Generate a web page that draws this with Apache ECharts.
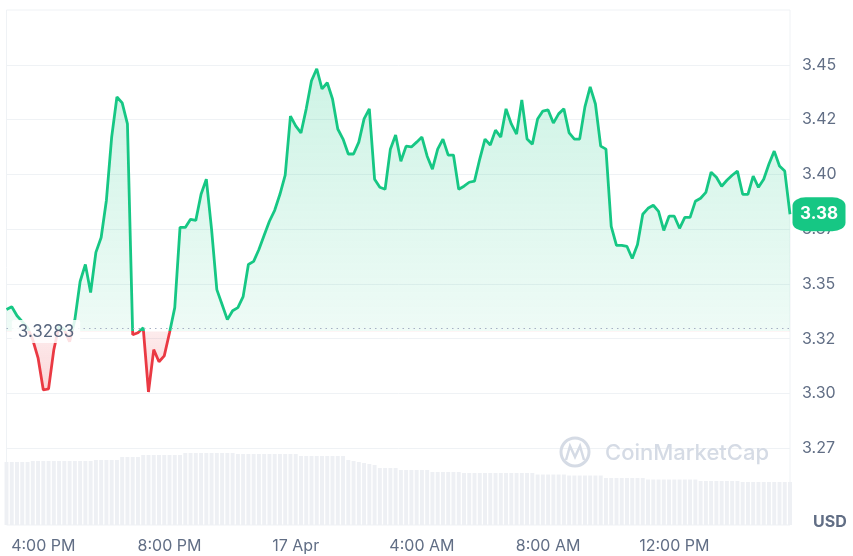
<!DOCTYPE html>
<html><head><meta charset="utf-8">
<script src="https://cdn.jsdelivr.net/npm/echarts@6/dist/echarts.min.js"></script>
<style>html,body{margin:0;padding:0;background:#fff}#c{width:853px;height:556px}</style>
</head><body><div id="c"></div>
<script>
// 10-minute samples starting 16 Apr 14:50
const startDay = 16;
const startMinutes = 14 * 60 + 50;
const stepMinutes = 10;
const baseline = 3.3283;
const priceTicks = [3.275, 3.3, 3.325, 3.35, 3.375, 3.4, 3.425, 3.45];
const prices = [
3.3383,3.3396,3.3355,3.3328,3.3300,3.3245,3.3163,3.3016,3.3021,3.3200,
3.3309,3.3291,3.3236,3.3337,3.3511,3.3589,3.3461,3.3644,3.3712,3.3882,
3.4170,3.4353,3.4326,3.4230,3.3268,3.3277,3.3300,3.3007,3.3200,3.3145,
3.3172,3.3277,3.3392,3.3758,3.3758,3.3795,3.3790,3.3909,3.3978,3.3749,
3.3474,3.3406,3.3337,3.3378,3.3392,3.3442,3.3589,3.3603,3.3657,3.3722,
3.3786,3.3836,3.3909,3.3996,3.4266,3.4221,3.4189,3.4299,3.4427,3.4482,
3.4390,3.4418,3.4344,3.4207,3.4161,3.4093,3.4093,3.4147,3.4253,3.4299,
3.3978,3.3941,3.3932,3.4115,3.4180,3.4060,3.4129,3.4125,3.4147,3.4170,
3.4083,3.4024,3.4115,3.4161,3.4088,3.4088,3.3932,3.3946,3.3964,3.3969,
3.4070,3.4161,3.4134,3.4202,3.4170,3.4299,3.4230,3.4184,3.4340,3.4161,
3.4138,3.4253,3.4289,3.4294,3.4234,3.4276,3.4299,3.4189,3.4161,3.4161,
3.4308,3.4399,3.4321,3.4129,3.4115,3.3763,3.3676,3.3676,3.3671,3.3616,
3.3680,3.3818,3.3845,3.3859,3.3831,3.3744,3.3809,3.3809,3.3754,3.3804,
3.3804,3.3877,3.3891,3.3918,3.4010,3.3987,3.3946,3.3973,3.3996,3.4015,
3.3909,3.3909,3.3992,3.3941,3.3978,3.4047,3.4106,3.4038,3.4015,3.3818
];
// relative volume
const volumes = [
63,63,63,63,63,64,64,64,64,64,
64,64,64,64,64,64,64,65,65,65,
65,65,68,68,68,68,70,70,70,70,
70,70,70,70,72,72,72,72,72,72,
72,72,72,72,71,71,71,71,71,71,
71,71,71,71,71,71,69,69,69,69,
69,69,69,69,69,65,64,63,62,61,
60,57,57,57,57,55,55,55,55,55,
55,53,53,53,53,53,53,52,52,52,
52,52,52,52,52,52,52,52,52,52,
52,50.5,50.5,50.5,50.5,50.5,50.5,49.5,49.5,49.5,
49.5,49.5,49.5,49.5,47,47,47,47,47,47,
47,47,45.5,45.5,45.5,45.5,45.5,45.5,45.5,45.5,
45.5,45.5,44,44,44,44,44,44,44,44,
43,43,43,43,43,43,43,43,43,43
];

const times = prices.map((_, i) => {
  const m = startMinutes + stepMinutes * i;
  const day = startDay + Math.floor(m / 1440);
  const mm = m % 1440;
  const h = Math.floor(mm / 60), mi = mm % 60;
  return day + ' Apr ' + String(h).padStart(2, '0') + ':' + String(mi).padStart(2, '0');
});
function parseT(s) {
  const p = s.split(' ');
  const hm = p[2].split(':').map(Number);
  return { day: +p[0], h: hm[0], m: hm[1] };
}
function fmtTime(s) {
  const t = parseT(s);
  if (t.h === 0 && t.m === 0) return t.day + ' Apr';
  const h12 = t.h % 12 === 0 ? 12 : t.h % 12;
  return h12 + ':' + String(t.m).padStart(2, '0') + (t.h < 12 ? ' AM' : ' PM');
}

const GREEN = '#16c784', RED = '#ea3943', TXT = '#616e85';
const pMax = Math.max(...prices), pMin = Math.min(...prices);
const baseOff = (pMax - baseline) / (pMax - pMin);
const last = prices[prices.length - 1];

const chart = echarts.init(document.getElementById('c'), null, { renderer: 'canvas' });
chart.setOption({
  animation: false,
  textStyle: { fontFamily: 'Inter' },
  grid: { left: 6.5, right: 63, top: 10, bottom: 31, containLabel: false, outerBoundsMode: 'none',
          show: true, borderColor: '#eff2f5', borderWidth: 1, backgroundColor: 'transparent' },
  title: { text: 'USD', left: 808, top: 509, textStyle: { fontFamily: 'Inter', fontSize: 16, fontWeight: 'bold', color: TXT } },
  xAxis: {
    type: 'category', data: times, boundaryGap: false,
    axisLine: { show: false }, axisTick: { show: false }, splitLine: { show: false },
    axisLabel: {
      color: TXT, fontSize: 16, fontFamily: 'Inter', margin: 13,
      interval: (idx, v) => { const t = parseT(v); return t.m === 0 && t.h % 4 === 0; },
      formatter: v => fmtTime(v)
    }
  },
  yAxis: [{
    type: 'value', position: 'right', min: 3.24, max: 3.475, scale: true,
    axisLine: { show: false },
    axisTick: { show: false, customValues: priceTicks },
    splitLine: { show: true, lineStyle: { color: '#eff2f5', width: 1 } },
    axisLabel: {
      customValues: priceTicks, color: TXT, fontSize: 16, fontFamily: 'Inter', margin: 12,
      formatter: v => (Math.floor(v * 100 + 1e-6) / 100).toFixed(2)
    }
  }, {
    type: 'value', min: 0, max: 515, show: false, splitLine: { show: false }
  }],
  visualMap: {
    type: 'piecewise', show: false, seriesIndex: 0, dimension: 1,
    pieces: [{ gte: 3.2, lt: baseline, color: RED }, { gte: baseline, lte: 3.5, color: GREEN }]
  },
  graphic: [
    { type: 'circle', shape: { cx: 575, cy: 452, r: 14 }, style: { fill: 'none', stroke: '#d5dbe5', lineWidth: 3 }, z: 1 },
    { type: 'polyline', shape: { points: [[566, 460], [570, 446], [575, 457], [580, 446], [584, 460]] }, style: { fill: 'none', stroke: '#d5dbe5', lineWidth: 2.5 }, z: 1 },
    { type: 'text', x: 605, y: 453, style: { text: 'CoinMarketCap', font: '500 22px Inter', fill: '#d5dbe5', verticalAlign: 'middle' }, z: 1 }
  ],
  series: [{
    type: 'line', data: prices, yAxisIndex: 0, showSymbol: false, symbol: 'none', clip: false, z: 3,
    lineStyle: { width: 2.8 },
    areaStyle: {
      origin: baseline,
      color: new echarts.graphic.LinearGradient(0, 0, 0, 1, [
        { offset: 0, color: 'rgba(22,199,132,0.30)' },
        { offset: Math.max(0, baseOff - 0.001), color: 'rgba(22,199,132,0.10)' },
        { offset: baseOff, color: 'rgba(234,57,67,0.14)' },
        { offset: 1, color: 'rgba(234,57,67,0.30)' }
      ])
    },
    markLine: {
      silent: true, symbol: ['none', 'none'], label: { show: false },
      lineStyle: { color: '#a6b0c3', type: [1.5, 4], width: 1.2 },
      data: [{ yAxis: baseline }]
    },
    markPoint: {
      silent: true,
      data: [
        { coord: [times[prices.length - 1], last], symbol: 'roundRect', symbolSize: [53, 34], symbolOffset: [29, 0],
          itemStyle: { color: GREEN },
          label: { show: true, position: 'inside', formatter: last.toFixed(2), color: '#fff', fontSize: 17, fontWeight: 'bold', fontFamily: 'Inter' } },
        { coord: [times[1], baseline], symbol: 'circle', symbolSize: 0,
          label: { show: true, position: 'right', distance: 0, formatter: String(baseline), color: '#58667e', fontSize: 17, fontFamily: 'Inter',
                   backgroundColor: 'rgba(255,255,255,0.85)', padding: [3, 6], borderRadius: 2 } }
      ]
    }
  }, {
    type: 'bar', data: volumes, yAxisIndex: 1, barCategoryGap: '25%', z: 1, silent: true,
    itemStyle: { color: '#eef0f4' }
  }]
});
</script></body></html>
